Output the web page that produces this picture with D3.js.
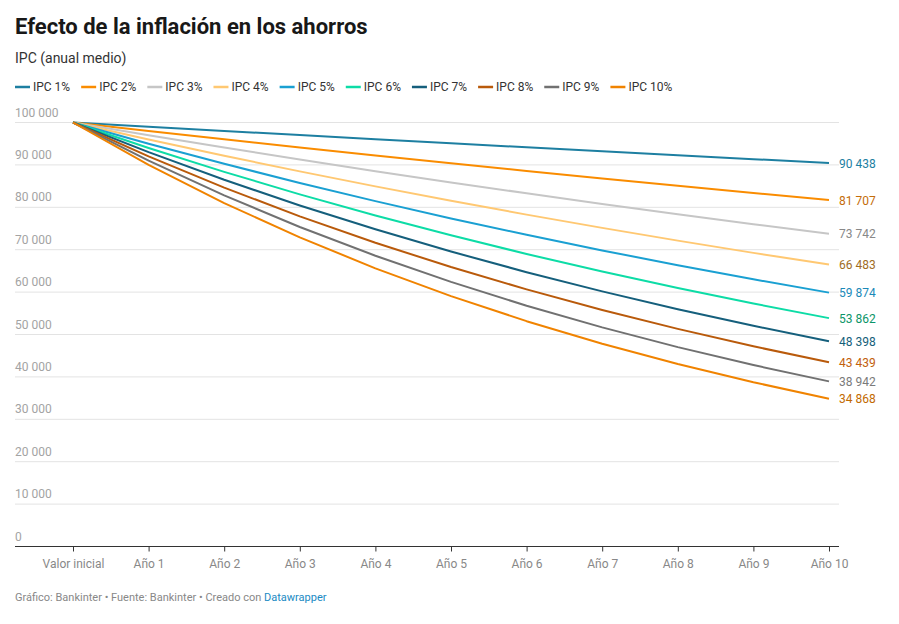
<!DOCTYPE html>
<html>
<head>
<meta charset="utf-8">
<script src="https://cdn.jsdelivr.net/npm/d3@7"></script>
<style>
  body { margin: 0; background: #fff; font-family: Roboto, "Noto Sans", sans-serif; }
  text { font-family: Roboto, "Noto Sans", sans-serif; }
</style>
</head>
<body>
<div id="chart"></div>
<script>
const periods = ['Valor inicial', 'Año 1', 'Año 2', 'Año 3', 'Año 4', 'Año 5', 'Año 6', 'Año 7', 'Año 8', 'Año 9', 'Año 10'];
const seriesNames = ['IPC 1%', 'IPC 2%', 'IPC 3%', 'IPC 4%', 'IPC 5%', 'IPC 6%', 'IPC 7%', 'IPC 8%', 'IPC 9%', 'IPC 10%'];

const ipc1 = [100000, 99000, 98010, 97030, 96060, 95099, 94148, 93207, 92274, 91352, 90438];
const ipc2 = [100000, 98000, 96040, 94119, 92237, 90392, 88584, 86813, 85076, 83375, 81707];
const ipc3 = [100000, 97000, 94090, 91267, 88529, 85873, 83297, 80798, 78374, 76023, 73742];
const ipc4 = [100000, 96000, 92160, 88474, 84935, 81537, 78276, 75145, 72139, 69253, 66483];
const ipc5 = [100000, 95000, 90250, 85738, 81451, 77378, 73509, 69834, 66342, 63025, 59874];
const ipc6 = [100000, 94000, 88360, 83058, 78075, 73390, 68987, 64848, 60957, 57299, 53862];
const ipc7 = [100000, 93000, 86490, 80436, 74805, 69569, 64699, 60170, 55958, 52041, 48398];
const ipc8 = [100000, 92000, 84640, 77869, 71639, 65908, 60636, 55785, 51322, 47216, 43439];
const ipc9 = [100000, 91000, 82810, 75357, 68575, 62403, 56787, 51676, 47025, 42793, 38942];
const ipc10 = [100000, 90000, 81000, 72900, 65610, 59049, 53144, 47830, 43047, 38742, 34868];

const yTicks = [0, 10000, 20000, 30000, 40000, 50000, 60000, 70000, 80000, 90000, 100000];

const lineColors = ['#1d7fa1', '#fa8c00', '#c6c6c6', '#ffc872', '#1aa0d2', '#0ddca6', '#155f7c', '#b95a0b', '#717171', '#f08300'];
const labelColors = ['#1d80a2', '#c46d0a', '#888888', '#a06d1f', '#1a89b8', '#0b9568', '#15607a', '#c2600c', '#7a7a7a', '#c26a00'];

const allSeries = [ipc1, ipc2, ipc3, ipc4, ipc5, ipc6, ipc7, ipc8, ipc9, ipc10];

const W = 899, H = 624;
const fmt = d3.formatLocale({ decimal: ',', thousands: ' ', grouping: [3], currency: ['', '€'] }).format(',d');

const svg = d3.select('#chart').append('svg')
  .attr('width', W)
  .attr('height', H)
  .attr('viewBox', `0 0 ${W} ${H}`);

// Header
svg.append('text')
  .attr('x', 15).attr('y', 34)
  .attr('font-size', 22).attr('font-weight', 700).attr('fill', '#181818')
  .text('Efecto de la inflación en los ahorros');

svg.append('text')
  .attr('x', 15).attr('y', 63)
  .attr('font-size', 14).attr('fill', '#333')
  .text('IPC (anual medio)');

// Legend
const gL = svg.append('g').attr('class', 'legend');
let lx = 15;
seriesNames.forEach((name, i) => {
  gL.append('line')
    .attr('x1', lx).attr('x2', lx + 15)
    .attr('y1', 87).attr('y2', 87)
    .attr('stroke', lineColors[i]).attr('stroke-width', 2.5);
  const t = gL.append('text')
    .attr('x', lx + 18).attr('y', 91)
    .attr('font-size', 12).attr('fill', '#333')
    .text(name);
  lx += 18 + t.node().getComputedTextLength() + 11;
});

// Scales
const x = d3.scalePoint().domain(periods).range([73, 829]);
const y = d3.scaleLinear().domain([0, 100000]).range([546.5, 122.5]);

// Grid
const gG = svg.append('g').attr('class', 'grid');
yTicks.forEach((v) => {
  if (v > 0) {
    gG.append('line')
      .attr('x1', 15).attr('x2', 839)
      .attr('y1', y(v)).attr('y2', y(v))
      .attr('stroke', '#e3e3e3').attr('stroke-width', 1);
  }
  gG.append('text')
    .attr('x', 15).attr('y', y(v) - 6)
    .attr('font-size', 12).attr('fill', '#a3a3a3')
    .text(fmt(v));
});

// X axis
const gX = svg.append('g')
  .attr('transform', `translate(0,${y(0)})`)
  .call(d3.axisBottom(x).tickSize(5).tickPadding(8));
gX.select('.domain').remove();
gX.selectAll('.tick line').attr('stroke', '#333');
gX.selectAll('.tick text')
  .attr('font-size', 12).attr('fill', '#888')
  .attr('font-family', 'Roboto, sans-serif');
svg.append('line')
  .attr('x1', 15).attr('x2', 839)
  .attr('y1', y(0)).attr('y2', y(0))
  .attr('stroke', '#333').attr('stroke-width', 1);

// Lines
const line = d3.line()
  .x((d, i) => x(periods[i]))
  .y(d => y(d));

const gS = svg.append('g').attr('class', 'series');
allSeries.forEach((s, i) => {
  gS.append('path')
    .datum(s)
    .attr('d', line)
    .attr('fill', 'none')
    .attr('stroke', lineColors[i])
    .attr('stroke-width', 2)
    .attr('stroke-linejoin', 'round');
});

// End labels
const gE = svg.append('g').attr('class', 'end-labels');
allSeries.forEach((s, i) => {
  const last = s[s.length - 1];
  gE.append('text')
    .attr('x', x(periods[periods.length - 1]) + 10)
    .attr('y', y(last) + 4.5)
    .attr('font-size', 12)
    .attr('fill', labelColors[i])
    .text(fmt(last));
});

// Footer
const foot = svg.append('text')
  .attr('x', 15).attr('y', 601)
  .attr('font-size', 11).attr('fill', '#888');
foot.append('tspan').text('Gráfico: Bankinter • Fuente: Bankinter • Creado con ');
foot.append('tspan').attr('fill', '#1a8ac4').text('Datawrapper');
</script>
</body>
</html>
